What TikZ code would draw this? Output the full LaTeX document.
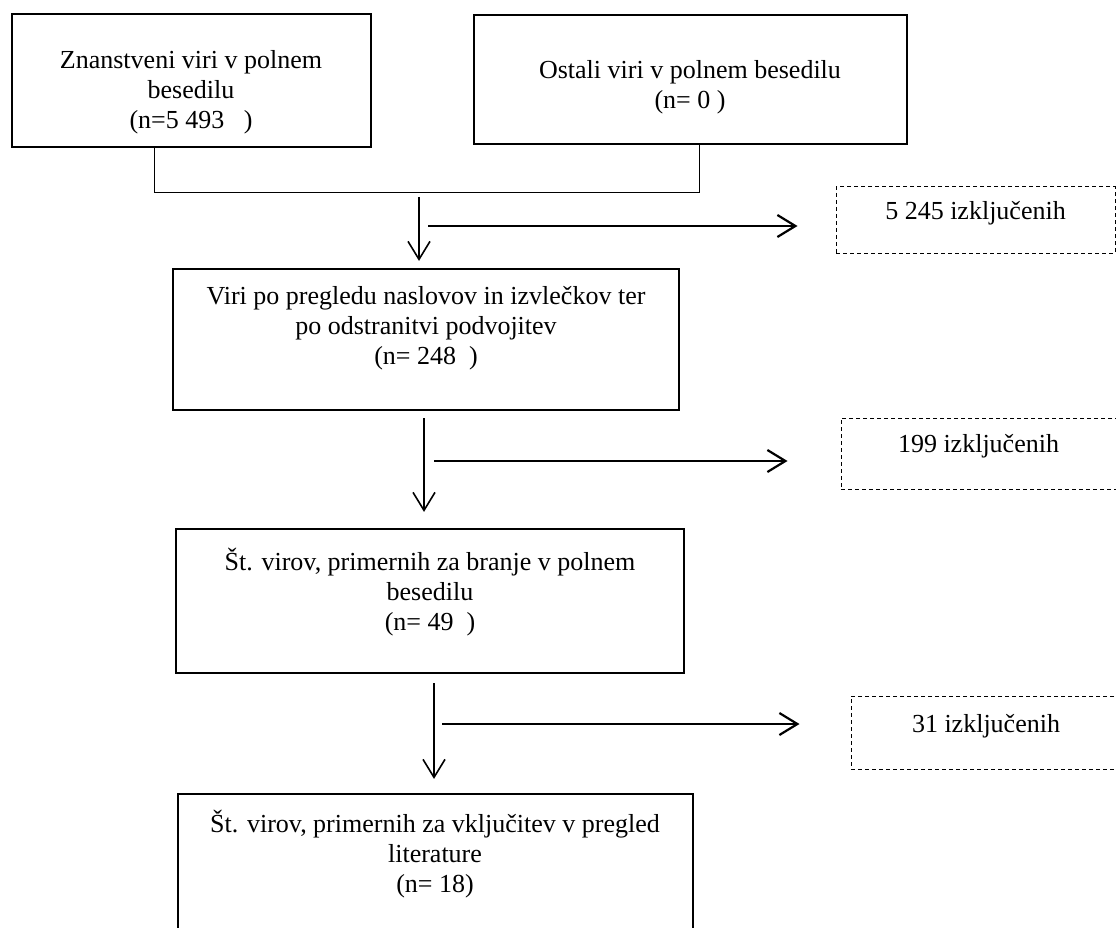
\documentclass[tikz,border=0pt]{standalone}
\usepackage{fontspec}
\setmainfont{Liberation Serif}
\usetikzlibrary{arrows.meta}

\tikzset{
  box/.style={draw, line width=2.2pt, inner sep=0pt},
  exbox/.style={draw, dashed, dash pattern=on 4pt off 3pt, line width=1pt, inner sep=0pt},
  txt/.style={align=center, inner sep=0.75pt, font=\fontsize{26}{30}\selectfont},
  arr/.style={-{Straight Barb[length=18pt,width=22pt,line width=1.6pt]}, line width=1.6pt},
  harr/.style={-{Straight Barb[length=18pt,width=22pt,line width=2.2pt]}, line width=2.4pt}
}

\begin{document}
\begin{tikzpicture}[x=1pt,y=1pt,yscale=-1,xscale=1]
            \useasboundingbox (0,0) rectangle (1116,928);
            \clip (0,0) rectangle (1116,928);
            %Shape: Rectangle
            \node [box, minimum width=359pt, minimum height=133pt] (zn) at (191.5,80.5) {};
            %Shape: Rectangle
            \node [box, minimum width=433pt, minimum height=129pt] (os) at (690.5,79.5) {};
            %Shape: Rectangle
            \node [box, minimum width=506pt, minimum height=141pt] (pr) at (426,339.5) {};
            %Shape: Rectangle
            \node [box, minimum width=508pt, minimum height=144pt] (br) at (430,601) {};
            %Shape: Rectangle
            \node [box, minimum width=515pt, minimum height=180pt] (vk) at (435.5,884) {};
            %Shape: Rectangle (dashed)
            \node [exbox, minimum width=279pt, minimum height=66pt] (izk1) at (975.5,220) {};
            \node [exbox, minimum width=275pt, minimum height=71pt] (izk2) at (978.5,453.5) {};
            \node [exbox, minimum width=270pt, minimum height=73pt] (izk3) at (986,732.5) {};

            % Text Node
            \node [txt] (zn-t) at (191,92) {Znanstveni viri v polnem\\besedilu\\(n=5 493\ \ \ )};
            % Text Node
            \node [txt] (os-t) at (690,87) {Ostali viri v polnem besedilu\\(n= 0 )};
            % Text Node
            \node [txt] (pr-t) at (426,328) {Viri po pregledu naslovov in izvlečkov ter\\po odstranitvi podvojitev\\(n= 248\ \ )};
            % Text Node
            \node [txt] (br-t) at (430,592) {Št. virov, primernih za branje v polnem\\besedilu\\(n= 49\ \ )};
            % Text Node
            \node [txt] (vk-t) at (435,854) {Št. virov, primernih za vključitev v pregled\\literature\\(n= 18)};
            % Text Node
            \node [txt] (izk1-t) at (izk1.center) [yshift=7pt] {5 245 izključenih};
            \node [txt] (izk2-t) at (izk2.center) [yshift=7pt] {199 izključenih};
            \node [txt] (izk3-t) at (izk3.center) [yshift=6pt] {31 izključenih};

            %Connector: join of the two sources
            \coordinate (zn-b) at (154,147);
            \coordinate (os-b) at (699,144);
            \draw [line width=1pt] (zn-b) -- (154,193) -- (699,193) -- (os-b);

            %Arrows down
            \coordinate (d1) at (419,197);
            \coordinate (d2) at (424,418);
            \coordinate (d3) at (434,683);
            \draw [arr, shorten >=7pt] (d1) -- (d1 |- pr.north);
            \draw [arr, shorten >=16pt] (d2) -- (d2 |- br.north);
            \draw [arr, shorten >=14pt] (d3) -- (d3 |- vk.north);

            %Arrows right
            \coordinate (h1) at (428,226);
            \coordinate (h2) at (434,461);
            \coordinate (h3) at (442,724);
            \draw [harr, shorten >=38pt] (h1) -- (h1 -| izk1.west);
            \draw [harr, shorten >=53pt] (h2) -- (h2 -| izk2.west);
            \draw [harr, shorten >=51pt] (h3) -- (h3 -| izk3.west);
\end{tikzpicture}
\end{document}
